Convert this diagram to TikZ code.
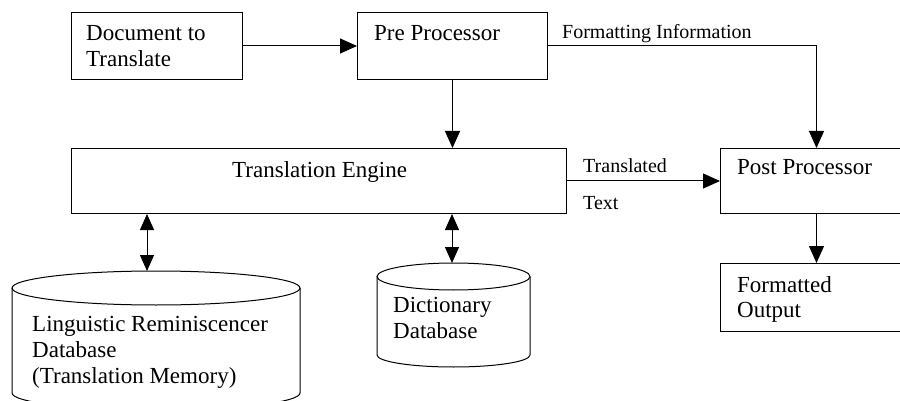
\documentclass[tikz,border=0pt]{standalone}
\usepackage{fontspec}
\setmainfont{Liberation Serif}
\usetikzlibrary{arrows.meta}

\begin{document}
\begin{tikzpicture}[
		x=1pt, y=-1pt,
		box/.style={
			draw, line width=1pt, rectangle, inner sep=0pt, anchor=north west
		},
		txt/.style={
			inner sep=0pt, anchor=north west, align=left, font=\fontsize{23}{26}\selectfont
		},
		lbl/.style={
			inner sep=0pt, anchor=base west, font=\fontsize{20}{22}\selectfont
		},
		flow/.style={line width=1pt, -{Triangle[length=17pt,width=15pt]}},
		both/.style={line width=1pt, {Triangle[length=16pt,width=14pt]}-{Triangle[length=16pt,width=14pt]}},
		db/.style={line width=1pt}
		]
		
		\useasboundingbox (0,0) rectangle (900,401);
		\fill[white] (0,0) rectangle (900,401);
		\clip (0,0) rectangle (900,401);
		
		% cajas
		\node[box, minimum width=171pt, minimum height=67pt] (doc) at (71,12) {};
		\node[box, minimum width=190pt, minimum height=67pt] (pre) at (357,12) {};
		\node[box, minimum width=495pt, minimum height=65pt] (engine) at (71,148) {};
		\node[box, minimum width=192pt, minimum height=65pt] (post) at (720,148) {};  % sale por el borde derecho
		\node[box, minimum width=192pt, minimum height=68pt] (output) at (720,263) {};
		
		\node[txt] (doctxt) at ([shift={(15,13.5)}]doc.north west) {Document to\\Translate};
		\node[txt] (pretxt) at ([shift={(17,13.5)}]pre.north west) {Pre Processor};
		\node[txt] (enginetxt) at ([shift={(161,13.5)}]engine.north west) {Translation Engine};
		\node[txt] (posttxt) at ([shift={(17,11.5)}]post.north west) {Post Processor};
		\node[txt, font=\fontsize{23}{25}\selectfont] (outputtxt) at ([shift={(17,13.5)}]output.north west) {Formatted\\Output};
		
		% bases de datos
		\draw[db] (12,288) -- (12,393) arc[start angle=180, end angle=360, x radius=144pt, y radius=17pt] -- (300,288);
		\draw[db] (156,288) ellipse[x radius=144pt, y radius=17pt];
		\coordinate (lrmtop) at (147,271);
		\node[txt] (lrmtxt) at (32,316.5) {Linguistic Reminiscencer\\Database\\(Translation Memory)};
		
		\draw[db] (377,276.5) -- (377,355) arc[start angle=180, end angle=360, x radius=76.5pt, y radius=12pt] -- (530,276.5);
		\draw[db] (453.5,276.5) ellipse[x radius=76.5pt, y radius=13.5pt];
		\coordinate (dicttop) at (452,263);
		\node[txt] (dicttxt) at (393,297.5) {Dictionary\\Database};
		
		% flechas
		\draw[flow] (doc.east) -- (pre.west);
		\draw[flow] (pre.south) -- (pre.south |- engine.north);
		\draw[flow] (pre.east) -| (post.north);
		\draw[flow] (engine.east) -- (post.west);
		\draw[flow] (post.south) -- (output.north);
		\draw[both] (engine.south -| lrmtop) -- (lrmtop);
		\draw[both] (engine.south -| dicttop) -- (dicttop);
		
		\node[lbl] (fmtlbl) at (562,39) {Formatting Information};
		\node[lbl] (trlbl) at (583,172) {Translated};
		\node[lbl] (textlbl) at (583,209) {Text};
	\end{tikzpicture}
\end{document}
